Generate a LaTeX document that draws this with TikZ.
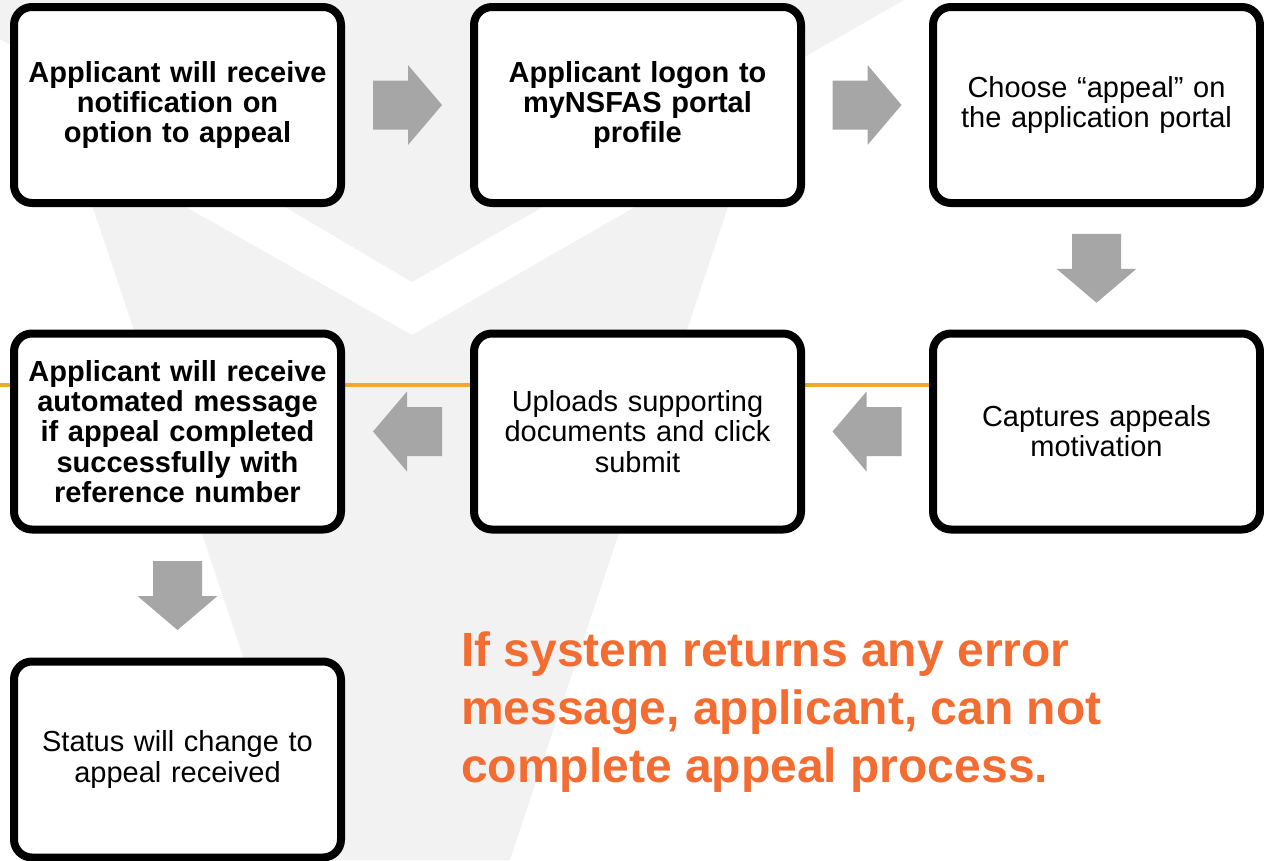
\documentclass[tikz,border=0pt]{standalone}
\usepackage{fontspec}
\setmainfont{Liberation Sans}
\usetikzlibrary{calc}
\definecolor{bgray}{RGB}{242,242,242}
\definecolor{agray}{RGB}{166,166,166}
\definecolor{oline}{RGB}{239,170,44}
\definecolor{otext}{RGB}{243,108,49}
\newcommand{\harrow}[2]{\fill[agray, shift={(#1)}, xscale=#2] (-34.5,-24.5) -- (0.5,-24.5) -- (0.5,-40) -- (34.5,0) -- (0.5,40) -- (0.5,24.5) -- (-34.5,24.5) -- cycle;}
\newcommand{\varrow}[1]{\fill[agray, shift={(#1)}] (-24.5,-34.5) -- (-24.5,0.5) -- (-40,0.5) -- (0,34.5) -- (40,0.5) -- (24.5,0.5) -- (24.5,-34.5) -- cycle;}
\begin{document}
\begin{tikzpicture}[x=1pt,y=-1pt,
  stepbox/.style={draw=black, line width=8pt, fill=white, rounded corners=18pt,
    minimum width=327pt, minimum height=196pt, inner sep=0pt, text width=322pt,
    align=center, font=\fontsize{29}{30.2}\selectfont},
  boldbox/.style={stepbox, font=\bfseries\fontsize{29}{30.2}\selectfont}]
\useasboundingbox (0,0) rectangle (1264,860);
\clip (0,0) rectangle (1264,860);
% background logo shapes
\fill[bgray] (0,0) -- (904,0) -- (412,282) -- (0,39) -- cycle;
\fill[bgray] (71,142) -- (412,335) -- (750,141) -- (510,860) -- (311,860) -- cycle;
% orange rule
\draw[oline, line width=4pt] (0,385) -- (935,385);
% boxes
\node[boldbox] (b1) at (177.5,105) {Applicant will receive\\notification on\\option to appeal};
\node[boldbox] (b2) at (637.5,105) {Applicant logon to\\myNSFAS portal\\profile};
\node[stepbox] (b3) at (1096.5,105) {Choose “appeal” on\\the application portal};
\node[boldbox] (b4) at (177.5,431.5) {Applicant will receive\\automated message\\if appeal completed\\successfully with\\reference number};
\node[stepbox] (b5) at (637.5,431.5) {Uploads supporting\\documents and click\\submit};
\node[stepbox] (b6) at (1096.5,431.5) {Captures appeals\\motivation};
\node[stepbox] (b7) at (177.5,759.5) {Status will change to\\appeal received};
% block arrows
\coordinate (a12) at ($(b1.east)!0.5!(b2.west)$);
\coordinate (a23) at ($(b2.east)!0.5!(b3.west)$);
\coordinate (a36) at ($(b3.south)!0.5!(b6.north)$);
\coordinate (a65) at ($(b6.west)!0.5!(b5.east)$);
\coordinate (a54) at ($(b5.west)!0.5!(b4.east)$);
\coordinate (a47) at ($(b4.south)!0.5!(b7.north)$);
\harrow{a12}{1}
\harrow{a23}{1}
\varrow{a36}
\harrow{a65}{-1}
\harrow{a54}{-1}
\varrow{a47}
% note
\node[anchor=north west, inner sep=0pt, text=otext, align=left,
  font=\bfseries\fontsize{48}{58}\selectfont] (note) at (461,632)
  {If system returns any error\\message, applicant, can not\\complete appeal process.};
\end{tikzpicture}
\end{document}
